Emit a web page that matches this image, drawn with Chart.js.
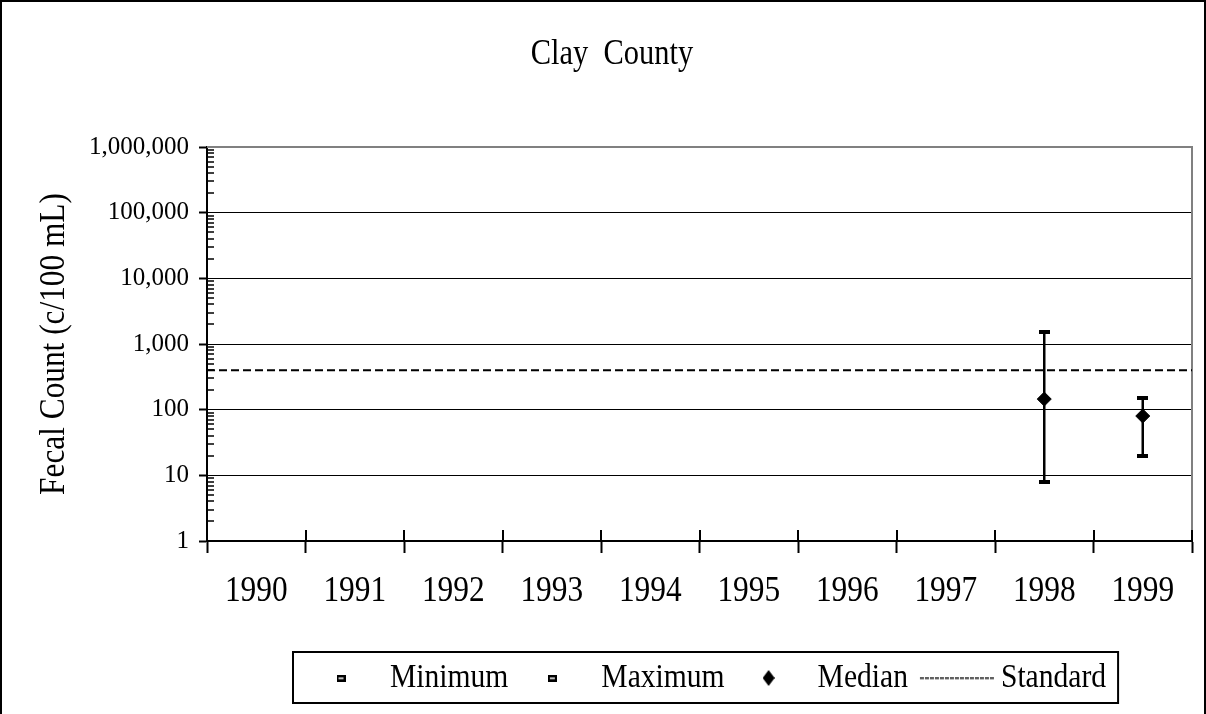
<!DOCTYPE html>
<html><head><meta charset="utf-8">
<script src="https://cdn.jsdelivr.net/npm/chart.js@4.4.1/dist/chart.umd.min.js"></script>
<style>html,body{margin:0;padding:0;background:#fff;} canvas{display:block;}</style>
</head><body>
<canvas id="c" width="1206" height="714"></canvas>
<script>
const years = ['1990','1991','1992','1993','1994','1995','1996','1997','1998','1999'];
const minimum = [null, null, null, null, null, null, null, null, 8, 20];
const maximum = [null, null, null, null, null, null, null, null, 1500, 150];
const median = [null, null, null, null, null, null, null, null, 145, 80];
const standard = [400, 400, 400, 400, 400, 400, 400, 400, 400, 400];
const yTickValues = [1, 10, 100, 1000, 10000, 100000, 1000000];
const yTickLabels = ['1', '10', '100', '1,000', '10,000', '100,000', '1,000,000'];
const seriesNames = ['Minimum', 'Maximum', 'Median', 'Standard'];
const titleText = 'Clay  County';
const yTitleText = 'Fecal Count (c/100 mL)';

const FONT = "'Liberation Serif', 'Times New Roman', serif";

// The reference text is a horizontally condensed Times face: large labels are drawn narrower.
const K = 0.87;
const canvas = document.getElementById('c');
const g2 = canvas.getContext('2d');
const origFill = g2.fillText.bind(g2);
const origMeasure = g2.measureText.bind(g2);
function fontPx() { const m = /(\d+(?:\.\d+)?)px/.exec(g2.font); return m ? parseFloat(m[1]) : 0; }
g2.fillText = function (t, x, y, mw) {
  if (fontPx() >= 30) { g2.save(); g2.translate(x, y); g2.scale(K, 1); origFill(t, 0, 0); g2.restore(); }
  else if (mw === undefined) origFill(t, x, y); else origFill(t, x, y, mw);
};
g2.measureText = function (t) {
  const m = origMeasure(t);
  if (fontPx() >= 30) {
    return { width: m.width * K, actualBoundingBoxAscent: m.actualBoundingBoxAscent, actualBoundingBoxDescent: m.actualBoundingBoxDescent, actualBoundingBoxLeft: m.actualBoundingBoxLeft * K, actualBoundingBoxRight: m.actualBoundingBoxRight * K };
  }
  return m;
};

function makeCanvas(w, h, draw) { const c = document.createElement('canvas'); c.width = w; c.height = h; draw(c.getContext('2d'), w, h); return c; }
const capMark = makeCanvas(11, 4, (g, w, h) => { g.fillStyle = '#000'; g.fillRect(0, 0, w, h); });
const capLegend = makeCanvas(9, 7, (g, w, h) => { g.fillStyle = '#000'; g.fillRect(0, 0, w, h); g.fillStyle = '#fff'; g.fillRect(2, 3, w - 4, 1.5); });
const diamondLegend = makeCanvas(12, 16, (g, w, h) => { g.fillStyle = '#000'; g.beginPath(); g.moveTo(w / 2, 0); g.lineTo(w, h / 2); g.lineTo(w / 2, h); g.lineTo(0, h / 2); g.closePath(); g.fill(); });
const lineLegend = makeCanvas(86, 3, (g, w, h) => { g.strokeStyle = '#000'; g.lineWidth = 1.3; g.setLineDash([4, 1]); g.beginPath(); g.moveTo(11, 1.5); g.lineTo(w, 1.5); g.stroke(); });
const legendIcons = [capLegend, capLegend, diamondLegend, lineLegend];

const deco = {
  id: 'deco',
  beforeDraw(chart) {
    const ctx = chart.ctx; ctx.save(); ctx.fillStyle = '#fff'; ctx.fillRect(0, 0, chart.width, chart.height); ctx.restore();
  },
  afterLayout(chart) {
    const lg = chart.legend;
    if (lg && lg.lineWidths) {
      const pad = lg.options.labels.padding;
      const cur = (lg.left + pad + lg.right - lg.lineWidths[0]) / 2;
      const dx = 309 - cur;
      lg.left += dx; lg.right += dx;
    }
    const tb = chart.titleBlock;
    if (tb) { const dx = 612 - (tb.left + tb.right) / 2; tb.left += dx; tb.right += dx; }
  },
  beforeDatasetsDraw(chart) {
    const ctx = chart.ctx, a = chart.chartArea, x = chart.scales.x, y = chart.scales.y;
    ctx.save();
    ctx.strokeStyle = '#808080'; ctx.lineWidth = 2;
    ctx.beginPath(); ctx.moveTo(a.left, a.top); ctx.lineTo(a.right, a.top); ctx.lineTo(a.right, a.bottom); ctx.stroke();
    ctx.strokeStyle = '#000'; ctx.lineWidth = 1.5;
    ctx.beginPath();
    for (let k = 0; k < yTickValues.length - 1; k++) {
      for (let m = 2; m < 10; m++) {
        const py = Math.round(y.getPixelForValue(yTickValues[k] * m));
        ctx.moveTo(a.left, py); ctx.lineTo(a.left + 7, py);
      }
    }
    ctx.stroke();
    ctx.lineWidth = 2;
    ctx.beginPath();
    for (let i = 0; i <= years.length; i++) {
      const px = Math.round(x.getPixelForValue(i - 0.5));
      ctx.moveTo(px, a.bottom - 11); ctx.lineTo(px, a.bottom);
    }
    ctx.stroke();
    ctx.lineWidth = 2.5;
    ctx.beginPath();
    for (let i = 0; i < years.length; i++) {
      if (minimum[i] == null || maximum[i] == null) continue;
      const px = x.getPixelForValue(i);
      ctx.moveTo(px, y.getPixelForValue(maximum[i])); ctx.lineTo(px, y.getPixelForValue(minimum[i]));
    }
    ctx.stroke();
    ctx.restore();
  },
  afterDraw(chart) {
    const ctx = chart.ctx, lg = chart.legend;
    ctx.save();
    ctx.strokeStyle = '#000'; ctx.lineWidth = 2;
    if (lg && lg.legendHitBoxes && lg.legendHitBoxes.length) {
      const hb = lg.legendHitBoxes, last = hb[hb.length - 1];
      const l = hb[0].left - 16, r = last.left + last.width + 12;
      const t = lg.top + 3, b = lg.bottom - 2;
      ctx.strokeRect(l, t, r - l, b - t);
    }
    ctx.strokeRect(1, 1, chart.width - 2, chart.height + 10);
    ctx.restore();
  }
};

new Chart(g2, {
  type: 'line',
  data: {
    labels: years,
    datasets: [
      { label: seriesNames[0], data: minimum, showLine: false, pointStyle: capMark, pointRadius: 5, borderColor: '#000', backgroundColor: '#000', xAxisID: 'x', yAxisID: 'y' },
      { label: seriesNames[1], data: maximum, showLine: false, pointStyle: capMark, pointRadius: 5, borderColor: '#000', backgroundColor: '#000', xAxisID: 'x', yAxisID: 'y' },
      { label: seriesNames[2], data: median, showLine: false, pointStyle: 'rectRot', pointRadius: 7, borderWidth: 1, borderColor: '#000', backgroundColor: '#000', xAxisID: 'x', yAxisID: 'y' },
      { label: seriesNames[3], data: standard.map((v, i) => ({ x: i, y: v })), xAxisID: 'x2', yAxisID: 'y', borderColor: '#000', borderWidth: 2, borderDash: [8, 4], pointRadius: 0, fill: false, tension: 0 }
    ]
  },
  options: {
    responsive: false, animation: false, devicePixelRatio: 1,
    layout: { padding: { left: 0, right: 14, top: 0, bottom: 9 } },
    plugins: {
      title: { display: true, text: titleText, color: '#000', font: { family: FONT, size: 35, weight: 'normal' }, padding: { top: 34, bottom: 71 } },
      legend: {
        display: true, position: 'bottom',
        labels: {
          usePointStyle: true, pointStyleWidth: 64, padding: 12, color: '#000', font: { family: FONT, size: 34 },
          generateLabels(chart) {
            return chart.data.datasets.map((d, i) => ({ text: d.label, datasetIndex: i, pointStyle: legendIcons[i], fillStyle: '#000', strokeStyle: '#000', lineWidth: 0, hidden: false, fontColor: '#000' }));
          }
        }
      },
      tooltip: { enabled: false }
    },
    scales: {
      x: {
        type: 'category', offset: true,
        grid: { offset: true, drawOnChartArea: false, drawTicks: true, tickLength: 12, tickWidth: 2, tickColor: '#000', color: '#000' },
        border: { display: true, color: '#000', width: 2 },
        ticks: { color: '#000', font: { family: FONT, size: 36 }, padding: 17, maxRotation: 0, autoSkip: false },
        afterFit(s) { s.height = 108; }
      },
      x2: { type: 'linear', display: false, min: 0, max: years.length - 1, offset: false },
      y: {
        type: 'logarithmic', min: 1, max: 1000000,
        afterBuildTicks(s) { s.ticks = yTickValues.map(v => ({ value: v })); },
        ticks: { color: '#000', font: { family: FONT, size: 25 }, padding: 10, callback(v) { const i = yTickValues.indexOf(v); return i >= 0 ? yTickLabels[i] : ''; } },
        grid: { color(ctx) { return ctx.tick && ctx.tick.value === 1000000 ? 'rgba(0,0,0,0)' : '#000'; }, lineWidth: 1, tickLength: 8, tickWidth: 2, tickColor: '#000' },
        border: { color: '#000', width: 2 },
        title: { display: true, text: yTitleText, color: '#000', font: { family: FONT, size: 36 }, padding: { top: 33, bottom: 0 } },
        afterFit(s) { s.width = 207; }
      }
    }
  },
  plugins: [deco]
});
</script>
</body></html>
